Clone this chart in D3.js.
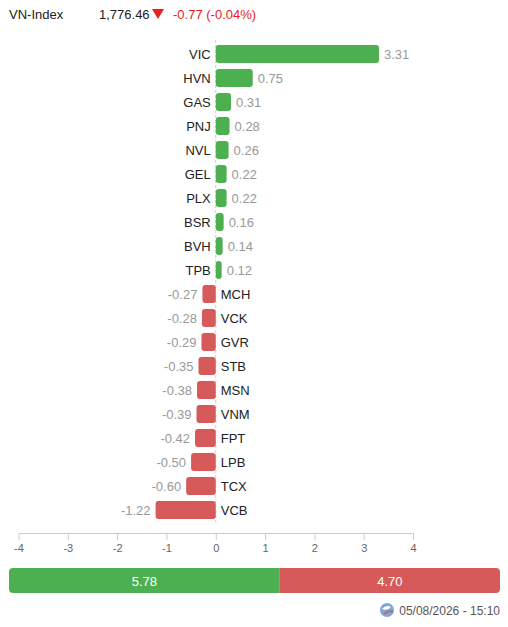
<!DOCTYPE html>
<html>
<head>
<meta charset="utf-8">
<script src="https://cdn.jsdelivr.net/npm/d3@7"></script>
<style>
  body { margin: 0; background: #fff; font-family: "Liberation Sans", Arial, sans-serif; }
</style>
</head>
<body>
<div id="chart"></div>
<script>
// data
var tickers = ["VIC", "HVN", "GAS", "PNJ", "NVL", "GEL", "PLX", "BSR", "BVH", "TPB",
               "MCH", "VCK", "GVR", "STB", "MSN", "VNM", "FPT", "LPB", "TCX", "VCB"];
var impacts = [3.31, 0.75, 0.31, 0.28, 0.26, 0.22, 0.22, 0.16, 0.14, 0.12,
               -0.27, -0.28, -0.29, -0.35, -0.38, -0.39, -0.42, -0.50, -0.60, -1.22];
var xTicks = [-4, -3, -2, -1, 0, 1, 2, 3, 4];
var totals = [5.78, 4.70];
var indexName = "VN-Index";
var indexValue = "1,776.46";
var indexChange = "-0.77 (-0.04%)";
var stamp = "05/08/2026 - 15:10";

var W = 508, H = 627;
var green = "#4caf50", red = "#d65a5a";

// plain hyphen for negatives, like the source
var loc = d3.formatLocale({decimal: ".", thousands: ",", grouping: [3], currency: ["", ""], minus: "-"});
var f2 = loc.format(".2f");
var f0 = loc.format("d");

var svg = d3.select("#chart")
  .append("svg")
  .attr("width", W)
  .attr("height", H);

// header
var head = svg.append("g").attr("font-size", 13);
head.append("text").attr("x", 9).attr("y", 19).attr("fill", "#222").text(indexName);
head.append("text").attr("x", 99).attr("y", 19).attr("fill", "#222").text(indexValue);
head.append("path")
  .attr("d", "M152,9 L164,9 L158,19 Z")
  .attr("fill", "#e8201e");
head.append("text").attr("x", 173).attr("y", 19).attr("fill", "#e8201e").text(indexChange);

// scales
var x = d3.scaleLinear().domain([-4, 4]).range([18.5, 413]);
var y = d3.scaleBand().domain(tickers).range([42, 522]).paddingInner(0.25).paddingOuter(0.125);

// zero line
svg.append("line")
  .attr("x1", x(0)).attr("x2", x(0))
  .attr("y1", 40).attr("y2", 522)
  .attr("stroke", "#ccc")
  .attr("stroke-dasharray", "3,2");

// bars
svg.selectAll(".bar")
  .data(tickers)
  .enter()
  .append("rect")
  .attr("class", "bar")
  .attr("x", function(d, i) { return Math.min(x(0), x(impacts[i])); })
  .attr("y", function(d) { return y(d); })
  .attr("width", function(d, i) { return Math.abs(x(impacts[i]) - x(0)); })
  .attr("height", y.bandwidth())
  .attr("rx", 3)
  .attr("fill", function(d, i) { return impacts[i] >= 0 ? green : red; });

// ticker names, on the side opposite the bar
svg.selectAll(".name")
  .data(tickers)
  .enter()
  .append("text")
  .attr("class", "name")
  .attr("x", function(d, i) { return impacts[i] >= 0 ? x(0) - 5 : x(0) + 5; })
  .attr("y", function(d) { return y(d) + y.bandwidth() / 2; })
  .attr("dy", "0.35em")
  .attr("text-anchor", function(d, i) { return impacts[i] >= 0 ? "end" : "start"; })
  .attr("font-size", 13)
  .attr("fill", "#222")
  .text(function(d) { return d; });

// values at bar end
svg.selectAll(".val")
  .data(tickers)
  .enter()
  .append("text")
  .attr("class", "val")
  .attr("x", function(d, i) { return impacts[i] >= 0 ? x(impacts[i]) + 5 : x(impacts[i]) - 5; })
  .attr("y", function(d) { return y(d) + y.bandwidth() / 2; })
  .attr("dy", "0.35em")
  .attr("text-anchor", function(d, i) { return impacts[i] >= 0 ? "start" : "end"; })
  .attr("font-size", 13)
  .attr("fill", "#999")
  .text(function(d, i) { return f2(impacts[i]); });

// x axis
var axis = svg.append("g")
  .attr("transform", "translate(0,533)")
  .call(d3.axisBottom(x).tickValues(xTicks).tickFormat(f0).tickSize(7).tickSizeOuter(0).tickPadding(4));
axis.select(".domain").attr("stroke", "#ccc");
axis.selectAll(".tick line").attr("stroke", "#ccc");
axis.selectAll(".tick text")
  .attr("fill", "#666")
  .attr("font-size", 11)
  .attr("font-family", "Liberation Sans, Arial, sans-serif");

// totals bar
var sum = d3.sum(totals);
var tb = d3.scaleLinear().domain([0, sum]).range([9, 500]);
var tg = svg.append("g");
tg.append("clipPath").attr("id", "tclip")
  .append("rect")
  .attr("x", tb(0)).attr("y", 568)
  .attr("width", tb(sum) - tb(0)).attr("height", 25)
  .attr("rx", 4);
var starts = [0, totals[0]];
tg.selectAll("rect.tot")
  .data(totals)
  .enter()
  .append("rect")
  .attr("class", "tot")
  .attr("clip-path", "url(#tclip)")
  .attr("x", function(d, i) { return tb(starts[i]); })
  .attr("y", 568)
  .attr("width", function(d) { return tb(d) - tb(0); })
  .attr("height", 25)
  .attr("fill", function(d, i) { return i == 0 ? green : red; });
tg.selectAll("text.tot")
  .data(totals)
  .enter()
  .append("text")
  .attr("class", "tot")
  .attr("x", function(d, i) { return tb(starts[i] + d / 2); })
  .attr("y", 581)
  .attr("dy", "0.35em")
  .attr("text-anchor", "middle")
  .attr("font-size", 13)
  .attr("fill", "#fff")
  .text(function(d) { return f2(d); });

// footer with little logo
var logo = svg.append("g").attr("transform", "translate(387,610)");
logo.append("circle").attr("r", 7).attr("fill", "#7fa8d8");
logo.append("path")
  .attr("d", "M-5,-1 Q-1,-6 4,-3 Q1,1 -5,-1 Z")
  .attr("fill", "#fff");
logo.append("path")
  .attr("d", "M-3,4 Q2,0 6,2")
  .attr("fill", "none")
  .attr("stroke", "#e05050")
  .attr("stroke-width", 1.5);
svg.append("text")
  .attr("x", 500).attr("y", 615)
  .attr("text-anchor", "end")
  .attr("font-size", 12)
  .attr("fill", "#555")
  .text(stamp);
</script>
</body>
</html>
